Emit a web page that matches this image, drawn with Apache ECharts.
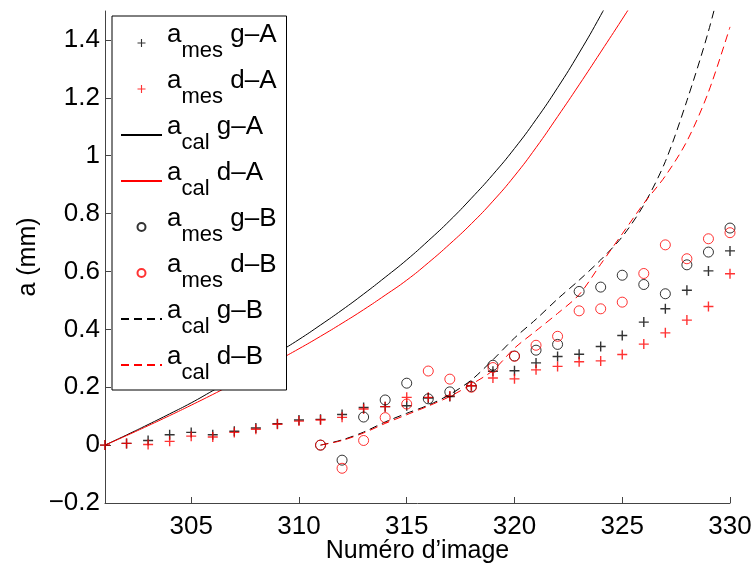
<!DOCTYPE html>
<html>
<head>
<meta charset="utf-8">
<script src="https://cdn.jsdelivr.net/npm/echarts@6/dist/echarts.min.js"></script>
<style>
html,body{margin:0;padding:0;background:#fff;}
#chart{width:755px;height:565px;}
</style>
</head>
<body>
<div id="chart"></div>
<script>
// ---- data ----
const xA = [301,302,303,304,305,306,307,308,309,310,311,312,313,314,315,316,317,318,319,320,321,322,323,324,325,326,327,328,329,330];
const mesGA = [0,0.006,0.016,0.036,0.044,0.036,0.048,0.059,0.074,0.087,0.089,0.106,0.13,0.133,0.136,0.163,0.168,0.205,0.255,0.257,0.284,0.306,0.314,0.341,0.379,0.425,0.471,0.535,0.602,0.671];
const mesDA = [0,0.006,0.002,0.013,0.031,0.028,0.044,0.055,0.072,0.083,0.087,0.096,0.125,0.133,0.165,0.165,0.17,0.205,0.232,0.229,0.26,0.272,0.288,0.291,0.313,0.349,0.388,0.432,0.479,0.592];

const xB = [311,312,313,314,315,316,317,318,319,320,321,322,323,324,325,326,327,328,329,330];
const mesGB = [0,-0.052,0.097,0.156,0.214,0.16,0.184,0.202,0.276,0.308,0.328,0.348,0.531,0.546,0.587,0.555,0.523,0.623,0.667,0.75];
const mesDB = [0,-0.08,0.016,0.095,0.142,0.256,0.228,0.2,0.268,0.307,0.345,0.376,0.464,0.471,0.494,0.593,0.692,0.644,0.713,0.734];

const xCalGA = [301,302,303,304,305,306,307,308,309,310,311,312,313,314,315,316,317,318,319,320,321,322,323,324,325];
const calGA = [0,0.035,0.071,0.108,0.146,0.188,0.230,0.274,0.319,0.365,0.415,0.467,0.522,0.58,0.64,0.706,0.776,0.853,0.935,1.025,1.125,1.235,1.355,1.485,1.625];
const xCalDA = [301,302,303,304,305,306,307,308,309,310,311,312,313,314,315,316,317,318,319,320,321,322,323,324,325,326];
const calDA = [0,0.033,0.067,0.102,0.138,0.175,0.213,0.252,0.292,0.333,0.376,0.421,0.468,0.518,0.57,0.63,0.695,0.765,0.843,0.93,1.028,1.135,1.245,1.358,1.472,1.588];

const xCalB = [311,312,313,314,315,316,317,318,319,320,321,322,323,324,325,326,327,328,329,330];
const calGB = [0,0.018,0.045,0.08,0.11,0.138,0.175,0.225,0.295,0.37,0.435,0.505,0.57,0.64,0.72,0.83,0.98,1.19,1.43,1.72];
const calDB = [0,0.016,0.042,0.075,0.105,0.135,0.168,0.21,0.258,0.335,0.395,0.455,0.52,0.625,0.73,0.835,0.93,1.05,1.22,1.445];

const xTicks = [305,310,315,320,325,330];

// legend entries: series name -> [base, subscript, suffix]
const legendParts = {
  'mesGA': ['a','mes',' g–A'],
  'mesDA': ['a','mes',' d–A'],
  'calGA': ['a','cal',' g–A'],
  'calDA': ['a','cal',' d–A'],
  'mesGB': ['a','mes',' g–B'],
  'mesDB': ['a','mes',' d–B'],
  'calGB': ['a','cal',' g–B'],
  'calDB': ['a','cal',' d–B']
};
const legendOrder = ['mesGA','mesDA','calGA','calDA','mesGB','mesDB','calGB','calDB'];
const lineNames = ['calGA','calDA','calGB','calDB'];

// ---- chart ----
const FONT = "'Liberation Sans', Arial, Helvetica, sans-serif";
const zip = (xs, ys) => xs.map((x, i) => [x, ys[i]]);
const PLUS = 'path://M4.3,0H5.7V4.3H10V5.7H5.7V10H4.3V5.7H0V4.3H4.3Z';
const AXC = '#444';

function plusSeries(name, color, data) {
  return { name, type: 'scatter', data, symbol: PLUS, symbolSize: 10,
    itemStyle: { color }, z: 3 };
}
function circleSeries(name, color, data) {
  return { name, type: 'scatter', data, symbol: 'circle', symbolSize: 10,
    itemStyle: { color: 'rgba(0,0,0,0)', borderColor: color, borderWidth: 1 }, z: 3 };
}
function lineSeries(name, color, data, dashed) {
  return { name, type: 'line', data, symbol: 'none', smooth: dashed ? 0.3 : 0.5,
    lineStyle: { color, width: 1, type: dashed ? [8, 5] : 'solid' },
    itemStyle: { color }, z: 2 };
}

const chart = echarts.init(document.getElementById('chart'), null, { renderer: 'canvas' });
chart.setOption({
  animation: false,
  backgroundColor: '#fff',
  grid: { left: 105, right: 25, top: 11, bottom: 62, containLabel: false, outerBoundsMode: 'none' },
  xAxis: {
    type: 'value', min: 301, max: 330,
    name: 'Numéro d’image', nameLocation: 'middle', nameGap: 36, nameMoveOverlap: false,
    nameTextStyle: { fontFamily: FONT, fontSize: 25, color: '#000' },
    axisLine: { onZero: false, lineStyle: { color: AXC, width: 1 } },
    axisTick: { inside: true, length: 6, lineStyle: { color: AXC }, customValues: xTicks },
    axisLabel: { customValues: xTicks, fontFamily: FONT, fontSize: 26, color: '#000', margin: 11 },
    splitLine: { show: false }
  },
  yAxis: {
    type: 'value', min: -0.2, max: 1.5, interval: 0.2,
    name: 'a (mm)', nameLocation: 'middle', nameGap: 64, nameMoveOverlap: false,
    nameTextStyle: { fontFamily: FONT, fontSize: 25, color: '#000' },
    axisLine: { show: true, onZero: false, lineStyle: { color: AXC, width: 1 } },
    axisTick: { show: true, inside: true, length: 6, lineStyle: { color: AXC } },
    axisLabel: { fontFamily: FONT, fontSize: 26, color: '#000', margin: 5,
      showMaxLabel: false,
      formatter: v => { const r = +(+v).toFixed(1); return r < 0 ? '−' + Math.abs(r) : String(r); } },
    splitLine: { show: false }
  },
  legend: {
    orient: 'vertical', left: 112, top: 16,
    itemWidth: 41, itemHeight: 8, itemGap: 4,
    padding: [6, 10, 4, 8],
    backgroundColor: '#fff', borderColor: '#000', borderWidth: 1,
    data: legendOrder.map(n => lineNames.includes(n) ? { name: n, itemStyle: { opacity: 0 } } : { name: n }),
    formatter: n => { const p = legendParts[n]; return '{a|' + p[0] + '}{s|' + p[1] + '}{a|' + p[2] + '}'; },
    textStyle: {
      fontFamily: FONT, color: '#000',
      rich: {
        a: { fontFamily: FONT, fontSize: 26, color: '#000', lineHeight: 26, padding: [0, 0, 16, 0] },
        s: { fontFamily: FONT, fontSize: 22, color: '#000', lineHeight: 26, padding: [16, 0, 0, 0] }
      }
    }
  },
  series: [
    plusSeries('mesGA', '#000', zip(xA, mesGA)),
    plusSeries('mesDA', '#ff0000', zip(xA, mesDA)),
    lineSeries('calGA', '#000', zip(xCalGA, calGA), false),
    lineSeries('calDA', '#ff0000', zip(xCalDA, calDA), false),
    circleSeries('mesGB', '#000', zip(xB, mesGB)),
    circleSeries('mesDB', '#ff0000', zip(xB, mesDB)),
    lineSeries('calGB', '#000', zip(xCalB, calGB), true),
    lineSeries('calDB', '#ff0000', zip(xCalB, calDB), true)
  ]
});
</script>
</body>
</html>
